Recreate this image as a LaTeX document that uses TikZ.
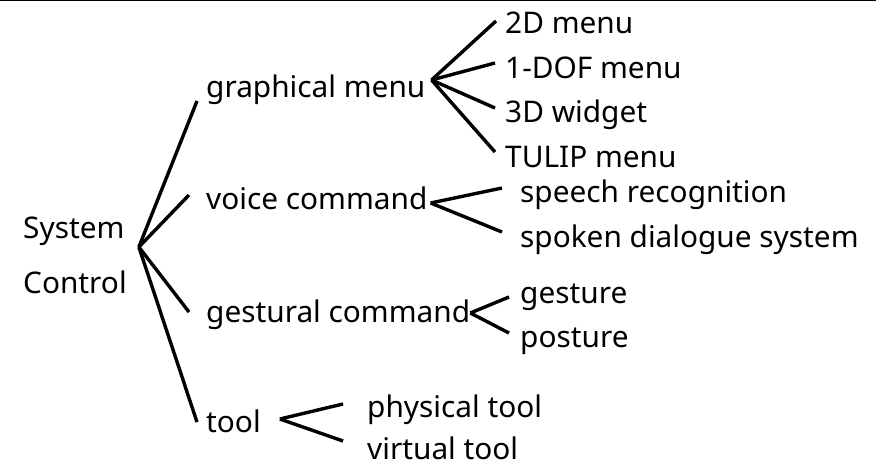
\documentclass[tikz,border=0pt]{standalone}
\usepackage{fontspec}
\setmainfont{Noto Sans}
\begin{document}
\begin{tikzpicture}[x=1pt,y=-1pt,
	lbl/.style={anchor=base west, inner sep=0pt, font=\fontsize{29.8}{36}\selectfont},
	br/.style={line width=3.4pt}]
	\useasboundingbox (0,0) rectangle (876,463);
	\draw[line width=1.4pt] (0,0.8) -- (876,0.8);
	
	% root
	\node[lbl] (sys) at (23,238) {System};
	\node[lbl] (ctl) at (23,293) {Control};
	\coordinate (scj) at ([shift={(12,-46)}]ctl.base east);
	
	% first level
	\node[lbl] (gm) at (206,97) {graphical menu};
	\node[lbl] (vc) at (206,209) {voice command};
	\node[lbl] (gc) at (206,322) {gestural command};
	\node[lbl] (tl) at (206,432) {tool};
	
	% second level
	\node[lbl] (m2d) at (505,33) {2D menu};
	\node[lbl] (dof) at (505,78) {1-DOF menu};
	\node[lbl] (w3d) at (505,122) {3D widget};
	\node[lbl] (tul) at (505,167) {TULIP menu};
	\node[lbl] (sr) at (520,202) {speech recognition};
	\node[lbl] (sd) at (520,247) {spoken dialogue system};
	\node[lbl] (ge) at (520,303) {gesture};
	\node[lbl] (po) at (520,347) {posture};
	\node[lbl] (pt) at (367,417) {physical tool};
	\node[lbl] (vt) at (367,459) {virtual tool};
	
	\coordinate (gmj) at ([shift={(6,-17)}]gm.base east);
	\coordinate (vcj) at ([shift={(3,-6)}]vc.base east);
	\coordinate (gcj) at ([shift={(0,-9)}]gc.base east);
	\coordinate (tlj) at ([shift={(19,-13)}]tl.base east);
	
	% branches
	\foreach \c/\s in {gm/{-9,4},vc/{-17,-14},gc/{-17,-10},tl/{-9,-10}}
	\draw[br] (scj) -- ([shift={(\s)}]\c.base west);
	\foreach \c/\s in {m2d/{-9,-12},dof/{-10,-15},w3d/{-10,-14},tul/{-10,-15}}
	\draw[br] (gmj) -- ([shift={(\s)}]\c.base west);
	\foreach \c/\s in {sr/{-18,-14},sd/{-18,-15}}
	\draw[br] (vcj) -- ([shift={(\s)}]\c.base west);
	\foreach \c/\s in {ge/{-11,-6},po/{-11,-14}}
	\draw[br] (gcj) -- ([shift={(\s)}]\c.base west);
	\foreach \c/\s in {pt/{-24,-13},vt/{-24,-18}}
	\draw[br] (tlj) -- ([shift={(\s)}]\c.base west);
\end{tikzpicture}
\end{document}
